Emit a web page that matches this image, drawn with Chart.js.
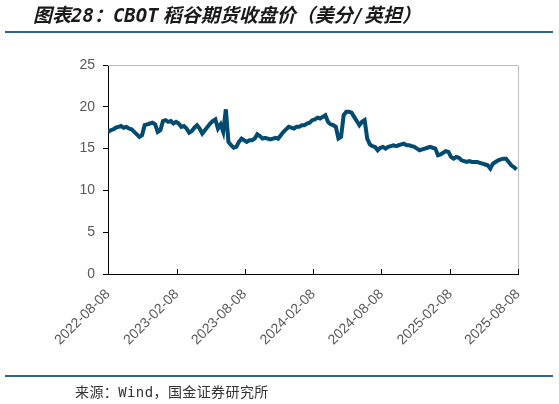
<!DOCTYPE html>
<html>
<head>
<meta charset="utf-8">
<script src="https://cdn.jsdelivr.net/npm/chart.js@4.4.1/dist/chart.umd.min.js"></script>
<style>
  html, body { margin: 0; padding: 0; background: #fff; }
  #wrap { position: relative; width: 559px; height: 404px; overflow: hidden; }
  #chart { position: absolute; left: 0; top: 0; }
  .title {
    position: absolute; left: 33px; top: 3px; line-height: 24px;
    font-family: "DejaVu Sans Mono", "Noto Sans CJK SC", monospace; font-weight: bold; font-style: italic;
    font-size: 19px; color: #1a1a1a; white-space: nowrap;
  }
  .title span { margin-left: 4px; }
  .rule { position: absolute; left: 5px; width: 548px; height: 2px; background: #2d6790; }
  .source {
    position: absolute; left: 75px; top: 382px; line-height: 20px;
    font-family: "DejaVu Sans Mono", "Noto Sans CJK SC", monospace; font-size: 14px; letter-spacing: 0.4px;
    color: #333; white-space: nowrap;
  }
</style>
</head>
<body>
<div id="wrap">
  <canvas id="chart" width="559" height="404"></canvas>
  <div class="title">图表28：CBOT<span>稻谷期货收盘价（美分/英担）</span></div>
  <div class="rule" style="top:31px"></div>
  <div class="rule" style="top:375px"></div>
  <div class="source">来源：Wind，国金证券研究所</div>
</div>
<script>
// weekly closes from 2022-08-08
const startDate = "2022-08-08";
const closes = [
  17.0, 17.2, 17.3, 17.5, 17.6, 17.7, 17.5, 17.6, 17.4, 17.3,
  17.0, 16.7, 16.4, 16.6, 17.8, 17.9, 18.0, 18.1, 17.9, 17.0,
  17.2, 18.3, 18.4, 18.2, 18.3, 18.0, 18.2, 18.0, 17.6, 17.7,
  17.4, 16.9, 17.1, 17.5, 17.8, 17.4, 16.8, 17.2, 17.6, 18.0,
  18.3, 18.5, 17.4, 17.9, 17.0, 19.7, 15.8, 15.4, 15.1, 15.2,
  15.8, 16.2, 16.0, 15.8, 16.0, 16.0, 16.2, 16.7, 16.5, 16.2,
  16.3, 16.2, 16.1, 16.2, 16.3, 16.2, 16.6, 17.0, 17.3, 17.6,
  17.5, 17.4, 17.6, 17.6, 17.8, 17.8, 18.0, 18.1, 18.4, 18.5,
  18.7, 18.6, 18.8, 19.0, 18.2, 17.9, 17.8, 17.6, 16.2, 16.4,
  19.0, 19.4, 19.4, 19.3, 18.8, 18.3, 17.8, 18.2, 18.4, 16.2,
  15.5, 15.3, 15.2, 14.8, 15.1, 15.2, 15.0, 15.2, 15.3, 15.4,
  15.3, 15.4, 15.5, 15.6, 15.4, 15.4, 15.3, 15.2, 15.0, 14.8,
  14.9, 15.0, 15.1, 15.2, 15.1, 15.0, 14.2, 14.3, 14.5, 14.7,
  14.6, 14.0, 13.8, 14.0, 13.9, 13.6, 13.5, 13.4, 13.5, 13.4,
  13.4, 13.4, 13.3, 13.2, 13.1, 13.0, 12.6, 13.2, 13.4, 13.6,
  13.7, 13.8, 13.8, 13.4, 13.0, 12.8, 12.5
];
const tickLabels = ["2022-08-08", "2023-02-08", "2023-08-08", "2024-02-08", "2024-08-08", "2025-02-08", "2025-08-08"];
const yTicks = [0, 5, 10, 15, 20, 25];

const DAY = 86400000;
const daysFrom = (s) => Math.round((Date.parse(s) - Date.parse(startDate)) / DAY);
const tickDays = tickLabels.map(daysFrom);
const points = closes.map((v, i) => ({ x: i * 7, y: v }));

// grey top/right frame and inward x tick marks
const framePlugin = {
  id: "frame",
  afterDatasetsDraw(chart) {
    const { ctx, chartArea: a, scales } = chart;
    ctx.save();
    ctx.strokeStyle = "#bfbfbf";
    ctx.lineWidth = 1;
    ctx.beginPath();
    ctx.moveTo(a.left, a.top + 0.5);
    ctx.lineTo(a.right + 0.5, a.top + 0.5);
    ctx.lineTo(a.right + 0.5, a.bottom);
    ctx.stroke();
    ctx.strokeStyle = "#000";
    ctx.beginPath();
    tickDays.forEach((d) => {
      const x = Math.round(scales.x.getPixelForValue(d)) + 0.5;
      ctx.moveTo(x, a.bottom);
      ctx.lineTo(x, a.bottom - 5);
    });
    ctx.stroke();
    ctx.restore();
  },
};

const ctx = document.getElementById("chart").getContext("2d");
const chart = new Chart(ctx, {
  type: "line",
  data: {
    datasets: [{
      data: points,
      borderColor: "#004b6f",
      borderWidth: 4,
      pointRadius: 0,
      tension: 0,
    }],
  },
  options: {
    responsive: false,
    animation: false,
    layout: { padding: { top: 65, right: 41, left: 0, bottom: 0 } },
    plugins: { legend: { display: false }, tooltip: { enabled: false } },
    scales: {
      x: {
        type: "linear",
        min: 0,
        max: tickDays[tickDays.length - 1],
        afterBuildTicks: (scale) => {
          scale.ticks = tickDays.map((v) => ({ value: v }));
        },
        afterFit: (scale) => { scale.height = 130; },
        grid: { drawOnChartArea: false, drawTicks: false },
        border: { color: "#000", width: 1 },
        ticks: {
          autoSkip: false,
          maxRotation: 45,
          minRotation: 45,
          padding: 12,
          color: "#595959",
          font: { family: "Liberation Sans", size: 14 },
          callback: (v) => tickLabels[tickDays.indexOf(v)],
        },
      },
      y: {
        min: 0,
        max: 25,
        afterBuildTicks: (scale) => {
          scale.ticks = yTicks.map((v) => ({ value: v }));
        },
        afterFit: (scale) => { scale.width = 108; },
        grid: { drawOnChartArea: false, color: "#000", tickLength: 5 },
        border: { color: "#000", width: 1 },
        ticks: {
          padding: 8,
          color: "#595959",
          font: { family: "Liberation Sans", size: 14 },
        },
      },
    },
  },
  plugins: [framePlugin],
});
</script>
</body>
</html>
